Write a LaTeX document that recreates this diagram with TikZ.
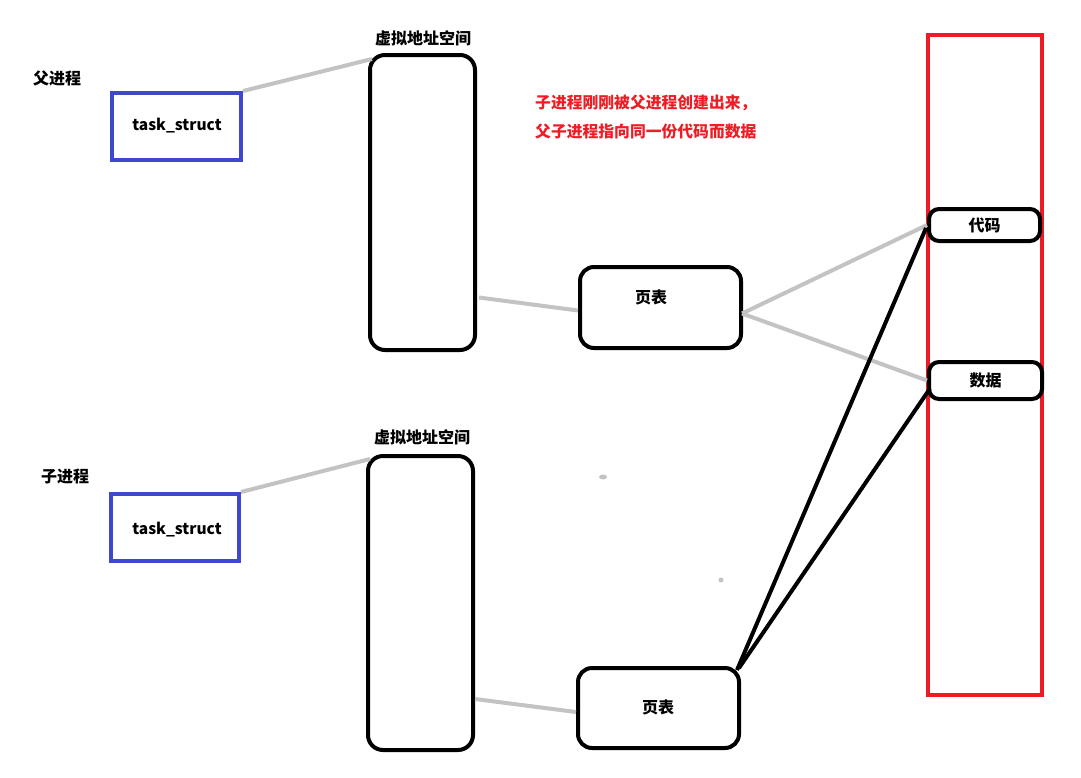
\documentclass[tikz,border=0pt]{standalone}
\usepackage{fontspec}
\setmainfont{Noto Sans CJK SC}
\usetikzlibrary{calc}
\definecolor{tsblue}{HTML}{3F48CC}
\definecolor{memred}{HTML}{ED1C24}
\definecolor{linkgray}{HTML}{C3C3C3}
\definecolor{notered}{HTML}{EE1C24}
\tikzset{
  tsbox/.style={draw=tsblue, line width=4pt, minimum width=129pt, minimum height=67pt, inner sep=0pt},
  vasbox/.style={draw=black, line width=4pt, rounded corners=15pt, minimum width=105pt, minimum height=295pt, inner sep=0pt},
  ptbox/.style={draw=black, line width=4pt, rounded corners=14pt, minimum width=161pt, minimum height=81pt, inner sep=0pt},
  membox/.style={draw=black, fill=white, line width=4pt, rounded corners=10pt, inner sep=0pt, font=\bfseries\fontsize{16}{19}\selectfont},
  lbl/.style={font=\bfseries\fontsize{16}{19}\selectfont, inner sep=0pt},
  tslbl/.style={font=\bfseries\fontsize{15.5}{19}\selectfont, inner sep=0pt},
  graylink/.style={draw=linkgray, line width=4pt},
  blacklink/.style={draw=black, line width=4pt},
}
\begin{document}
\begin{tikzpicture}[x=1pt,y=-1pt]
\useasboundingbox (0,0) rectangle (1081,777);
% memory
\node[draw=memred, line width=4pt, minimum width=114pt, minimum height=660pt, inner sep=0pt] (mem) at (985,365) {};
\node[membox, minimum width=111pt, minimum height=32pt] (code) at (984.5,225) {代码};
\node[membox, minimum width=113pt, minimum height=37pt] (data) at (985.5,380.5) {数据};
% parent
\node[lbl] (plabel) at (57,78) {父进程};
\node[tsbox] (ts1) at (176.5,126.5) {};
\node[tslbl] (ts1t) at (177,126) {task\_struct};
\node[vasbox] (vas1) at (422.5,202.5) {};
\node[lbl] (vas1l) at (423,38) {虚拟地址空间};
\node[ptbox] (pt1) at (660.5,307.5) {};
\node[lbl] (pt1t) at (651,297) {页表};
% child
\node[lbl] (clabel) at (65,477) {子进程};
\node[tsbox, minimum width=128pt] (ts2) at (175,527.5) {};
\node[tslbl] (ts2t) at (177,530) {task\_struct};
\node[vasbox, minimum height=294pt] (vas2) at (420.5,603) {};
\node[lbl] (vas2l) at (422,437) {虚拟地址空间};
\node[ptbox, minimum height=80pt] (pt2) at (658.5,708) {};
\node[lbl] (pt2t) at (658,707) {页表};
% note
\node[font=\bfseries\fontsize{15.8}{29}\selectfont, text=notered, align=left, inner sep=0pt, anchor=west] (note) at (535,117.5) {子进程刚刚被父进程创建出来，\\父子进程指向同一份代码而数据};
% gray links
\draw[graylink] (ts1.north east) -- ($(vas1.north west)+(4,6)$);
\draw[graylink] ($(vas1.east)+(2,95)$) -- ($(pt1.west)+(0,3)$);
\draw[graylink] ($(pt1.east)+(-1,6)$) -- (code.west);
\draw[graylink] ($(pt1.east)+(-1,6)$) -- (data.west);
\draw[graylink] (ts2.north east) -- ($(vas2.north west)+(4,5)$);
\draw[graylink] ($(vas2.east)+(0,96)$) -- ($(pt2.west)+(0,4)$);
% black links
\draw[blacklink] ($(pt2.north east)+(-4,4)$) -- ($(code.west)+(-1,3)$);
\draw[blacklink] ($(pt2.north east)+(-2,2)$) -- ($(data.west)+(3,8)$);
% stray dots
\fill[linkgray] (603,477) ellipse (4pt and 2.5pt);
\fill[linkgray] (721,580) circle (2.5pt);
\end{tikzpicture}
\end{document}
